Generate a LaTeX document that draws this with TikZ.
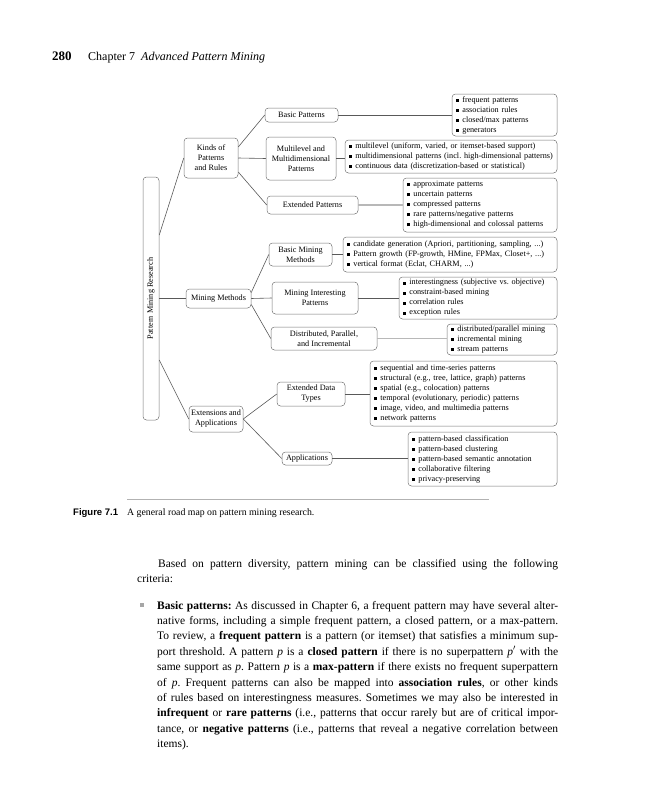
\documentclass[tikz,border=0pt]{standalone}
\usepackage{fontspec}
\usepackage{graphicx}
\setmainfont{Liberation Serif}
\newfontfamily\capsans{Liberation Sans}
\usetikzlibrary{calc}
\frenchspacing
\newcommand\dfont{\fontsize{8.2}{10}\selectfont}
\newcommand\li[1]{\mbox{\rule[0.4pt]{3pt}{3pt}\hspace{3.4pt}#1}}
\begin{document}
\begin{tikzpicture}[x=1pt,y=-1pt,
  box/.style={draw=black!55, line width=0.5pt, rounded corners=3.5pt, inner sep=0pt, align=center, font=\dfont},
  leaf/.style={box, align=left, inner xsep=4pt},
  conn/.style={draw=black!65, line width=0.6pt},
  lconn/.style={draw=black!28, line width=1.3pt},
  bodyline/.style={anchor=base west, inner sep=0pt, font=\fontsize{11.5}{15}\selectfont}]
\useasboundingbox (0,0) rectangle (648,800);
% header
\node[anchor=base west, inner sep=0pt, font=\fontsize{13}{15}\selectfont\bfseries] (pg) at (52,60) {280};
\node[anchor=base west, inner sep=0pt, font=\fontsize{12}{14}\selectfont] (ch) at (88,60) {Chapter 7\enspace\textit{Advanced Pattern Mining}};
% tree
\node[box, minimum width=16pt, minimum height=243pt] (root) at (151,298.5) {\rotatebox{90}{Pattern Mining Research}};
\node[box, minimum width=54pt, minimum height=40pt] (kinds) at (211,158) {Kinds of\\Patterns\\and Rules};
\node[box, minimum width=65pt, minimum height=19pt] (mm) at (218.5,298.5) {Mining Methods};
\node[box, minimum width=54pt, minimum height=26pt] (ext) at (216,419) {Extensions and\\Applications};
\node[box, minimum width=73pt, minimum height=14pt] (bp) at (301.5,115) {Basic Patterns};
\node[box, minimum width=70pt, minimum height=43pt] (mdp) at (301,158.5) {Multilevel and\\Multidimensional\\Patterns};
\node[box, minimum width=91pt, minimum height=18pt] (ep) at (312.5,205) {Extended Patterns};
\node[box, minimum width=63pt, minimum height=23pt] (bmm) at (300.5,254.5) {Basic Mining\\Methods};
\node[box, minimum width=86pt, minimum height=32pt] (mip) at (315,298) {Mining Interesting\\Patterns};
\node[box, minimum width=106pt, minimum height=23pt] (dpi) at (324,338.5) {Distributed, Parallel,\\and Incremental};
\node[box, minimum width=68pt, minimum height=24pt] (edt) at (311,394) {Extended Data\\Types};
\node[box, minimum width=50pt, minimum height=13pt] (app) at (307,458.5) {Applications};
% leaves
\node[leaf, text width=97pt, minimum height=42pt] (l1) at (504.5,115) {\li{frequent patterns}\\\li{association rules}\\\li{closed/max patterns}\\\li{generators}};
\node[leaf, text width=204pt, minimum height=33pt] (l2) at (451,156.5) {\li{multilevel (uniform, varied, or itemset-based support)}\\\li{multidimensional patterns (incl. high-dimensional patterns)}\\\li{continuous data (discretization-based or statistical)}};
\node[leaf, text width=146pt, minimum height=54pt] (l3) at (480,205) {\li{approximate patterns}\\\li{uncertain patterns}\\\li{compressed patterns}\\\li{rare patterns/negative patterns}\\\li{high-dimensional and colossal patterns}};
\node[leaf, text width=206pt, minimum height=35pt] (l4) at (450,254.5) {\li{candidate generation (Apriori, partitioning, sampling, ...)}\\\li{Pattern growth (FP-growth, HMine, FPMax, Closet+, ...)}\\\li{vertical format (Eclat, CHARM, ...)}};
\node[leaf, text width=150pt, minimum height=42pt] (l5) at (478,298) {\li{interestingness (subjective vs. objective)}\\\li{constraint-based mining}\\\li{correlation rules}\\\li{exception rules}};
\node[leaf, text width=102pt, minimum height=31pt] (l6) at (502,339.5) {\li{distributed/parallel mining}\\\li{incremental mining}\\\li{stream patterns}};
\node[leaf, text width=179pt, minimum height=65pt] (l7) at (463.5,393.5) {\li{sequential and time-series patterns}\\\li{structural (e.g., tree, lattice, graph) patterns}\\\li{spatial (e.g., colocation) patterns}\\\li{temporal (evolutionary, periodic) patterns}\\\li{image, video, and multimedia patterns}\\\li{network patterns}};
\node[leaf, text width=141pt, minimum height=54pt] (l8) at (482.5,459) {\li{pattern-based classification}\\\li{pattern-based clustering}\\\li{pattern-based semantic annotation}\\\li{collaborative filtering}\\\li{privacy-preserving}};
% connectors
\draw[conn] ([yshift=63.5pt]root.east) -- (kinds.west);
\draw[conn] (root.east) -- (mm.west);
\draw[conn] ([yshift=-61.5pt]root.east) -- (ext.west);
\draw[conn] ([yshift=11pt]kinds.east) -- (bp.west);
\draw[conn] (kinds.east) -- (mdp.west);
\draw[conn] ([yshift=-14pt]kinds.east) -- (ep.west);
\draw[conn] ([yshift=6pt]mm.east) -- (bmm.west);
\draw[conn] (mm.east) -- (mip.west);
\draw[conn] ([yshift=-6pt]mm.east) -- (dpi.west);
\draw[conn] (ext.east) -- (edt.west);
\draw[conn] (ext.east) -- (app.west);
\draw[conn] (bp.east) -- (l1.west);
\draw[conn] (mdp.east) -- (mdp.east -| l2.west);
\draw[lconn] (ep.east) -- (l3.west);
\draw[conn] (bmm.east) -- (l4.west);
\draw[conn] (mip.east) -- (l5.west);
\draw[lconn] (dpi.east) -- (dpi.east -| l6.west);
\draw[conn] (edt.east) -- (edt.east -| l7.west);
\draw[conn] (app.east) -- (app.east -| l8.west);
% caption
\coordinate (rl) at (127,499);
\coordinate (rr) at (489,499);
\draw[draw=black!30, line width=0.6pt] (rl) -- (rr);
\node[anchor=base west, inner sep=0pt, font=\capsans\bfseries\fontsize{9.5}{11}\selectfont] (fig) at (73,515) {Figure 7.1};
\node[anchor=base west, inner sep=0pt, font=\fontsize{9.8}{11}\selectfont] (cap) at (127,515) {A general road map on pattern mining research.};
% body text
\node[bodyline] (b1) at (158,567) {\makebox[400pt][s]{Based on pattern diversity, pattern mining can be classified using the following}};
\node[bodyline] (b2) at (137,582.5) {criteria:};
\node[fill=black!35, minimum size=4.5pt, inner sep=0pt] (bul) at (142,605) {};
\node[bodyline] (i1) at (157,609) {\makebox[401pt][s]{\textbf{Basic patterns:} As discussed in Chapter 6, a frequent pattern may have several alter-}};
\node[bodyline] (i2) at (157,624.4) {\makebox[401pt][s]{native forms, including a simple frequent pattern, a closed pattern, or a max-pattern.}};
\node[bodyline] (i3) at (157,639.8) {\makebox[401pt][s]{To review, a \textbf{frequent pattern} is a pattern (or itemset) that satisfies a minimum sup-}};
\node[bodyline] (i4) at (157,655.2) {\makebox[401pt][s]{port threshold. A pattern \textit{p} is a \textbf{closed pattern} if there is no superpattern \textit{p}$'$ with the}};
\node[bodyline] (i5) at (157,670.6) {\makebox[401pt][s]{same support as \textit{p}. Pattern \textit{p} is a \textbf{max-pattern} if there exists no frequent superpattern}};
\node[bodyline] (i6) at (157,686) {\makebox[401pt][s]{of \textit{p}. Frequent patterns can also be mapped into \textbf{association rules}, or other kinds}};
\node[bodyline] (i7) at (157,701.4) {\makebox[401pt][s]{of rules based on interestingness measures. Sometimes we may also be interested in}};
\node[bodyline] (i8) at (157,716.8) {\makebox[401pt][s]{\textbf{infrequent} or \textbf{rare patterns} (i.e., patterns that occur rarely but are of critical impor-}};
\node[bodyline] (i9) at (157,732.2) {\makebox[401pt][s]{tance, or \textbf{negative patterns} (i.e., patterns that reveal a negative correlation between}};
\node[bodyline] (i10) at (157,747.6) {items).};
\end{tikzpicture}
\end{document}
